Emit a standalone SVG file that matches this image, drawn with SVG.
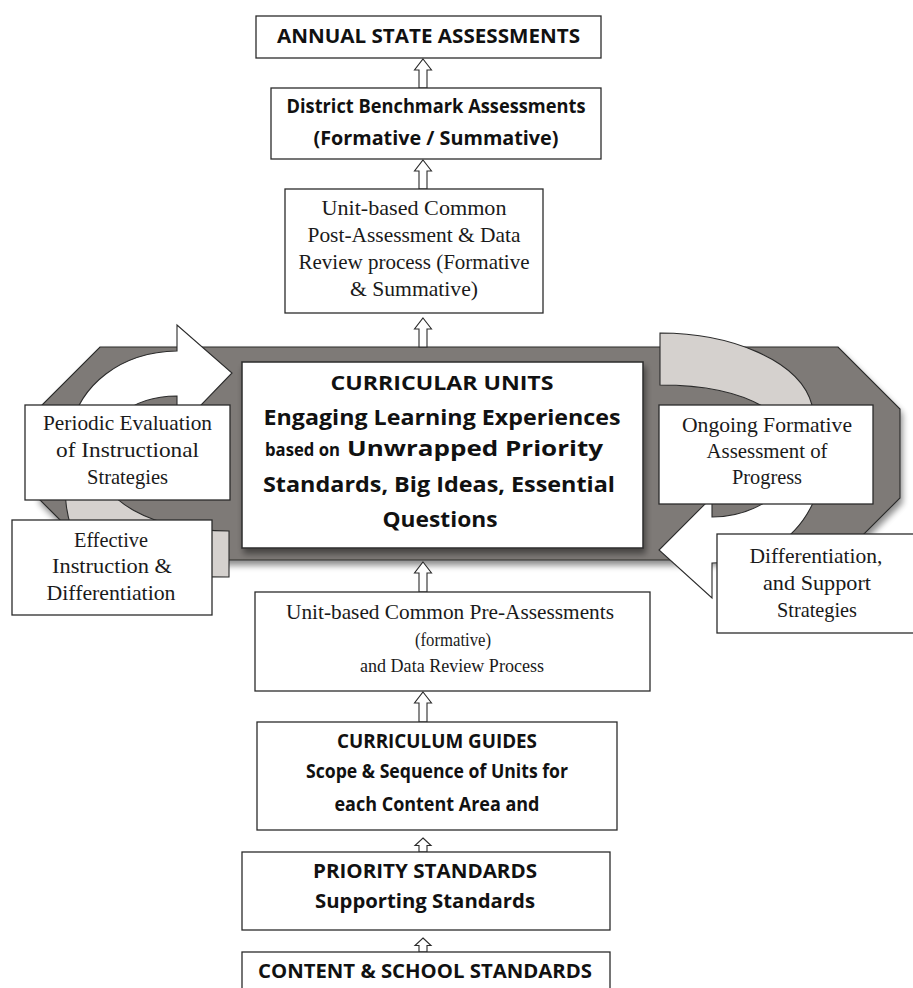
<svg xmlns="http://www.w3.org/2000/svg" width="913" height="988" viewBox="0 0 913 988">
<defs>
<style>
.box{fill:#fff;stroke:#2b2b2b;stroke-width:1.3}
.sb{font-family:"Open Sans","Liberation Sans",sans-serif;font-weight:700;fill:#111;text-anchor:middle}
.sf{font-family:"Liberation Serif","Times New Roman",serif;fill:#1a1a1a;text-anchor:middle;font-size:21px}
.arr{fill:#fff;stroke:#2b2b2b;stroke-width:1.1}
.cyc{stroke:#2b2b2b;stroke-width:1.1}
</style>
<linearGradient id="gL" gradientUnits="userSpaceOnUse" x1="0" y1="410" x2="0" y2="495">
<stop offset="0" stop-color="#ffffff"/><stop offset="1" stop-color="#d5d1ce"/>
</linearGradient>
<linearGradient id="gR" gradientUnits="userSpaceOnUse" x1="0" y1="410" x2="0" y2="500">
<stop offset="0" stop-color="#d5d1ce"/><stop offset="1" stop-color="#ffffff"/>
</linearGradient>
<filter id="sh" x="-5%" y="-10%" width="112%" height="125%">
<feGaussianBlur in="SourceAlpha" stdDeviation="3"/>
<feOffset dx="2" dy="5" result="b"/>
<feComponentTransfer><feFuncA type="linear" slope="0.45"/></feComponentTransfer>
<feMerge><feMergeNode/><feMergeNode in="SourceGraphic"/></feMerge>
</filter>
</defs>

<g id="cycle-band">
<polygon points="100,347 838,347 900,409 900,498 838,560 100,560 38,498 38,409" fill="#7e7a77" stroke="#2b2b2b" stroke-width="1.1" filter="url(#sh)"/>
</g>
<g id="cycle-arrow-left">
<path class="cyc" fill="url(#gL)" d="M177,351 C120,352 80,385 70,430 C60,480 62,540 95,560 C125,577 180,577 229,577 L229,531 C150,531 98,500 98,460 C98,425 130,396 177,396 L177,430 L232,373 L177,325 Z"/>
</g>
<g id="cycle-arrow-right">
<path class="cyc" fill="url(#gR)" d="M660,333 C730,333 800,360 812,405 C826,440 824,480 812,505 C795,540 760,563 712,563 L712,598 L659,550 L712,497 L712,517 C745,517 785,500 795,465 C805,425 760,385 660,385 Z"/>
</g>

<g id="connectors">
<path class="arr" d="M423,59 L431.5,70 L427,70 L427,88 L419,88 L419,70 L414.5,70 Z"/>
<path class="arr" d="M423,160 L431.5,171 L427,171 L427,189 L419,189 L419,171 L414.5,171 Z"/>
<path class="arr" d="M423,318 L431.5,329 L427,329 L427,347 L419,347 L419,329 L414.5,329 Z"/>
<path class="arr" d="M423,562 L431.5,573 L427,573 L427,592 L419,592 L419,573 L414.5,573 Z"/>
<path class="arr" d="M423,692 L431.5,703 L427,703 L427,722 L419,722 L419,703 L414.5,703 Z"/>
<path class="arr" d="M423,838 L431,845.5 L427,845.5 L427,852 L419,852 L419,845.5 L415,845.5 Z"/>
<path class="arr" d="M423,938 L431,945.5 L427,945.5 L427,952 L419,952 L419,945.5 L415,945.5 Z"/>
</g>

<g id="annual">
<rect class="box" x="256" y="16" width="345" height="42"/>
<text class="sb" x="428.5" y="43" font-size="20" textLength="303" lengthAdjust="spacingAndGlyphs">ANNUAL STATE ASSESSMENTS</text>
</g>
<g id="district">
<rect class="box" x="271" y="88" width="330" height="71"/>
<text class="sb" x="436" y="113" font-size="19" textLength="299" lengthAdjust="spacingAndGlyphs">District Benchmark Assessments</text>
<text class="sb" x="436" y="145" font-size="19" textLength="245" lengthAdjust="spacingAndGlyphs">(Formative / Summative)</text>
</g>
<g id="post-assessment">
<rect class="box" x="285" y="189" width="258" height="124"/>
<text class="sf" x="414" y="215" textLength="185" lengthAdjust="spacingAndGlyphs">Unit-based Common</text>
<text class="sf" x="414" y="242" textLength="213" lengthAdjust="spacingAndGlyphs">Post-Assessment &amp; Data</text>
<text class="sf" x="414" y="269" textLength="231" lengthAdjust="spacingAndGlyphs">Review process (Formative</text>
<text class="sf" x="414" y="296" textLength="128" lengthAdjust="spacingAndGlyphs">&amp; Summative)</text>
</g>
<g id="curricular-units" filter="url(#sh)">
<rect x="242" y="362" width="401" height="186" fill="#fff" stroke="#2b2b2b" stroke-width="1.5"/>
</g>
<g id="curricular-units-text">
<text class="sb" x="442" y="390" font-size="20" textLength="223" lengthAdjust="spacingAndGlyphs">CURRICULAR UNITS</text>
<text class="sb" x="442" y="425" font-size="21.5" textLength="357" lengthAdjust="spacingAndGlyphs">Engaging Learning Experiences</text>
<text class="sb" x="265" y="456" font-size="17" style="text-anchor:start" textLength="75" lengthAdjust="spacingAndGlyphs">based on</text>
<text class="sb" x="347" y="456" font-size="21" style="text-anchor:start" textLength="256" lengthAdjust="spacingAndGlyphs">Unwrapped Priority</text>
<text class="sb" x="439" y="492" font-size="21" textLength="352" lengthAdjust="spacingAndGlyphs">Standards, Big Ideas, Essential</text>
<text class="sb" x="440" y="527" font-size="21" textLength="115" lengthAdjust="spacingAndGlyphs">Questions</text>
</g>
<g id="periodic">
<rect class="box" x="25" y="405" width="205" height="95"/>
<text class="sf" x="127.5" y="430" textLength="169" lengthAdjust="spacingAndGlyphs">Periodic Evaluation</text>
<text class="sf" x="127.5" y="457" textLength="143" lengthAdjust="spacingAndGlyphs">of Instructional</text>
<text class="sf" x="127.5" y="484" textLength="81" lengthAdjust="spacingAndGlyphs">Strategies</text>
</g>
<g id="effective">
<rect class="box" x="12" y="520" width="200" height="95"/>
<text class="sf" x="111" y="547" textLength="74" lengthAdjust="spacingAndGlyphs">Effective</text>
<text class="sf" x="112" y="573" textLength="120" lengthAdjust="spacingAndGlyphs">Instruction &amp;</text>
<text class="sf" x="111" y="600" textLength="129" lengthAdjust="spacingAndGlyphs">Differentiation</text>
</g>
<g id="ongoing">
<rect class="box" x="659" y="405" width="214" height="99"/>
<text class="sf" x="767" y="432" textLength="170" lengthAdjust="spacingAndGlyphs">Ongoing Formative</text>
<text class="sf" x="767" y="458" textLength="121" lengthAdjust="spacingAndGlyphs">Assessment of</text>
<text class="sf" x="767" y="484" textLength="70" lengthAdjust="spacingAndGlyphs">Progress</text>
</g>
<g id="differentiation">
<rect class="box" x="717" y="534" width="210" height="99"/>
<text class="sf" x="816" y="563" textLength="133" lengthAdjust="spacingAndGlyphs">Differentiation,</text>
<text class="sf" x="817" y="590" textLength="108" lengthAdjust="spacingAndGlyphs">and Support</text>
<text class="sf" x="817" y="617" textLength="80" lengthAdjust="spacingAndGlyphs">Strategies</text>
</g>
<g id="pre-assessment">
<rect class="box" x="255" y="592" width="395" height="99"/>
<text class="sf" x="450" y="619" textLength="328" lengthAdjust="spacingAndGlyphs">Unit-based Common Pre-Assessments</text>
<text class="sf" x="453" y="646" font-size="19" style="font-size:19px" textLength="76" lengthAdjust="spacingAndGlyphs">(formative)</text>
<text class="sf" x="452" y="672" font-size="19" style="font-size:19px" textLength="184" lengthAdjust="spacingAndGlyphs">and Data Review Process</text>
</g>
<g id="curriculum-guides">
<rect class="box" x="257" y="722" width="360" height="108"/>
<text class="sb" x="437" y="748" font-size="19.5" textLength="200" lengthAdjust="spacingAndGlyphs">CURRICULUM GUIDES</text>
<text class="sb" x="437" y="778" font-size="19.5" textLength="262" lengthAdjust="spacingAndGlyphs">Scope &amp; Sequence of Units for</text>
<text class="sb" x="437" y="811" font-size="19.5" textLength="205" lengthAdjust="spacingAndGlyphs">each Content Area and</text>
</g>
<g id="priority">
<rect class="box" x="242" y="852" width="368" height="78"/>
<text class="sb" x="425" y="878" font-size="20" textLength="224" lengthAdjust="spacingAndGlyphs">PRIORITY STANDARDS</text>
<text class="sb" x="425" y="908" font-size="20" textLength="220" lengthAdjust="spacingAndGlyphs">Supporting Standards</text>
</g>
<g id="content-standards">
<rect class="box" x="242" y="952" width="368" height="50"/>
<text class="sb" x="425" y="978" font-size="20" textLength="334" lengthAdjust="spacingAndGlyphs">CONTENT &amp; SCHOOL STANDARDS</text>
</g>
</svg>
